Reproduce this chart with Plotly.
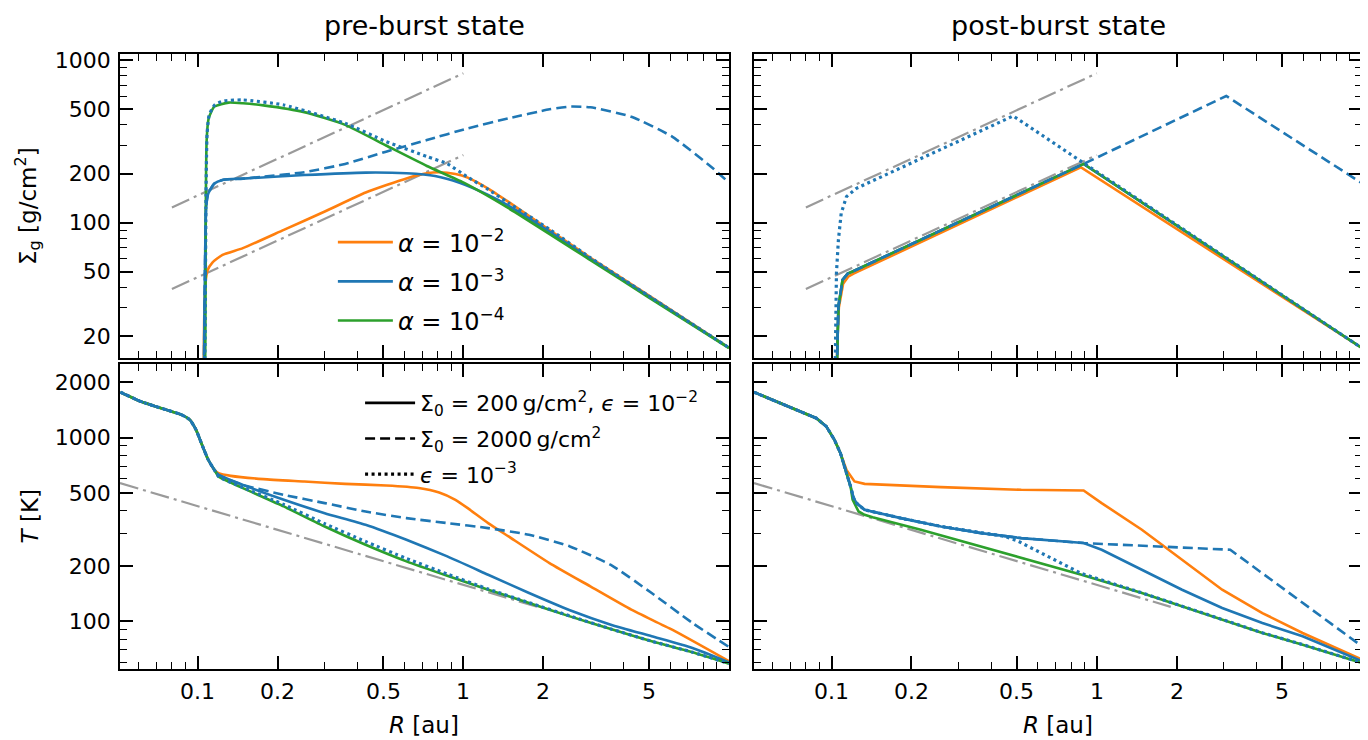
import math
import plotly.graph_objects as go

# ---------------- data ----------------
# gray reference power laws
R_ref_S = [0.08, 1.0]
S_ref_hi = [124, 828]
S_ref_lo = [39, 260]
R_ref_T = [0.051, 1.9]
T_ref = [565, 120]

# ---- pre-burst surface density ----
R_pre_S_o = [0.1052, 0.1058, 0.1066, 0.1076, 0.1090, 0.1136, 0.124, 0.148, 0.211, 0.301, 0.429, 0.611, 0.729, 0.811, 0.934, 1.039, 1.24, 1.48, 2.11, 3.0, 5.0, 10.0]
S_pre_o = [10, 25, 38, 46, 51, 56.8, 63.3, 69.6, 90.2, 116.9, 153, 187, 201, 204, 199, 189, 162, 134, 90, 61, 35.5, 17.0]

R_pre_S_b = [0.1055, 0.1061, 0.1069, 0.1076, 0.1096, 0.1156, 0.124, 0.148, 0.252, 0.429, 0.611, 0.783, 0.968, 1.24, 1.48, 2.11, 3.0, 5.0, 10.0]
S_pre_b = [10, 30.5, 78, 125, 151, 174, 183, 186.5, 196, 203, 201, 193.6, 176, 148, 127, 88, 60, 35.2, 17.0]

R_pre_S_g = [0.1065, 0.1069, 0.1073, 0.1081, 0.110, 0.1156, 0.1308, 0.148, 0.1768, 0.252, 0.359, 0.512, 0.729, 1.003, 1.48, 3.0, 5.0, 10.0]
S_pre_g = [10, 19, 125, 322, 438, 517, 547, 542, 526, 478, 399, 298, 223, 176, 122.6, 59, 34.5, 16.9]

R_pre_S_dash = [0.1055, 0.1061, 0.1069, 0.1076, 0.1096, 0.1156, 0.124, 0.148, 0.1768, 0.252, 0.359, 0.512, 0.729, 1.04, 1.48, 2.11, 2.519, 3.008, 4.29, 6.11, 8.7, 10.0]
S_pre_dash = [10, 30.5, 78, 125, 151, 174, 183, 186.5, 191.8, 204, 229.5, 273, 322, 380, 438, 497.5, 517, 512, 448, 338, 216, 176]

R_pre_S_dot = [0.1062, 0.1068, 0.1075, 0.1085, 0.1105, 0.116, 0.125, 0.148, 0.211, 0.359, 0.512, 0.729, 0.87, 1.04, 1.24, 1.48, 2.11, 3.0, 5.0, 10.0]
S_pre_dot = [10, 30, 150, 350, 460, 530, 560, 568, 529, 408, 315, 255, 230, 190, 160, 132, 91, 61, 35.3, 17.0]

# ---- post-burst surface density ----
R_post_S_o = [0.1045, 0.1053, 0.1065, 0.1105, 0.1155, 0.121, 0.87, 10.0]
S_post_o = [10, 20, 30, 42, 46.5, 48.5, 219, 16.9]

R_post_S_b = [0.1043, 0.1050, 0.1061, 0.110, 0.115, 0.120, 0.892, 10.0]
S_post_b = [10, 20, 30.5, 44.4, 48.5, 50, 229.6, 16.9]

R_post_S_g = [0.1043, 0.1050, 0.1061, 0.110, 0.115, 0.120, 0.892, 10.0]
S_post_g = [10, 20, 30.5, 44.4, 48.5, 50, 229.6, 16.9]

R_post_S_dash = [0.1043, 0.1050, 0.1061, 0.110, 0.115, 0.120, 0.892, 3.076, 10.0]
S_post_dash = [10, 20, 30.5, 44.4, 48.5, 50, 229.6, 600.8, 174.6]

R_post_S_dot = [0.1030, 0.1036, 0.1043, 0.1061, 0.1087, 0.1138, 0.1242, 0.484, 0.876, 10.0]
S_post_dot = [10, 20, 48.8, 78.3, 114, 144.5, 162.6, 452.8, 237, 16.9]

# ---- pre-burst temperature ----
R_pre_T_o = [0.0512, 0.0611, 0.0729, 0.0871, 0.0935, 0.0986, 0.1039, 0.1096, 0.1156, 0.1198, 0.1332, 0.1768, 0.252, 0.359, 0.512, 0.6794, 0.811, 0.934, 1.039, 1.24, 1.48, 2.11, 3.008, 4.29, 6.11, 10.0]
T_pre_o = [1765, 1570, 1444, 1329, 1248, 1101, 912, 757, 667, 640, 619, 594, 577, 560, 549, 532, 502.6, 458.6, 413, 342.5, 289.8, 207.6, 155, 115.8, 90.1, 60.7]

R_pre_T_b = [0.0512, 0.0611, 0.0729, 0.0871, 0.0935, 0.0986, 0.1039, 0.1096, 0.1156, 0.1198, 0.148, 0.211, 0.3008, 0.4286, 0.6107, 0.87, 1.24, 1.768, 2.519, 3.592, 5.117, 7.29, 10.0]
T_pre_b = [1765, 1570, 1444, 1329, 1248, 1101, 912, 757, 667, 627, 553, 458.6, 388, 335.5, 278, 225.7, 179.4, 142.6, 115, 96, 83, 71.7, 59.9]

R_pre_T_g = [0.0512, 0.0611, 0.0729, 0.0871, 0.0935, 0.0986, 0.1039, 0.1096, 0.1156, 0.1198, 0.148, 0.211, 0.3008, 0.4286, 0.6107, 0.87, 1.24, 1.768, 2.519, 3.592, 5.117, 7.29, 10.0]
T_pre_g = [1765, 1570, 1444, 1329, 1248, 1101, 912, 757, 667, 614, 530.7, 422, 328, 261, 212, 177, 148.7, 126, 106.5, 90.9, 77.9, 67.9, 58.9]

R_pre_T_dash = [0.0512, 0.0611, 0.0729, 0.0871, 0.0935, 0.0986, 0.1039, 0.1096, 0.1156, 0.1198, 0.148, 0.211, 0.3008, 0.4286, 0.6107, 0.87, 1.24, 1.768, 2.519, 3.592, 5.117, 7.29, 10.0]
T_pre_dash = [1765, 1570, 1444, 1329, 1248, 1101, 912, 757, 667, 627, 553, 488, 440, 396, 364.6, 342.5, 321.7, 295.9, 255.7, 203, 142.6, 98, 72.6]

R_pre_T_dot = [0.0512, 0.0611, 0.0729, 0.0871, 0.0935, 0.0986, 0.1039, 0.1096, 0.1156, 0.1198, 0.148, 0.211, 0.3008, 0.4286, 0.6107, 0.87, 1.24, 1.768, 2.519, 3.592, 5.117, 7.29, 10.0]
T_pre_dot = [1765, 1570, 1444, 1329, 1248, 1101, 912, 757, 667, 614, 535, 432, 340, 272, 220, 181, 150, 126.5, 107, 91, 78, 68, 59]

# ---- post-burst temperature ----
R_post_T_o = [0.051, 0.064, 0.0876, 0.0956, 0.1025, 0.108, 0.1138, 0.122, 0.1332, 0.2584, 0.519, 0.892, 1.043, 1.479, 2.096, 2.97, 4.21, 5.97, 10.0]
T_post_o = [1765, 1538, 1274, 1148, 972, 822, 667, 577, 560, 537.4, 519.8, 515.4, 440, 315, 216.4, 148.7, 111, 86.5, 61.9]

R_post_T_b = [0.051, 0.064, 0.0876, 0.0956, 0.1025, 0.108, 0.1138, 0.118, 0.121, 0.1242, 0.1332, 0.1823, 0.2584, 0.3663, 0.519, 0.892, 1.043, 1.479, 2.096, 2.97, 4.21, 5.97, 10.0]
T_post_b = [1765, 1538, 1274, 1148, 972, 822, 650, 540, 470, 440, 404.6, 364.6, 328.5, 302, 283.9, 266.7, 245.3, 191, 148.7, 118.2, 98, 83, 60.7]

R_post_T_g = [0.051, 0.064, 0.0876, 0.0956, 0.1025, 0.108, 0.1138, 0.118, 0.12, 0.1264, 0.1332, 0.1428, 0.217, 0.3663, 0.618, 0.876, 1.479, 2.096, 2.97, 4.21, 5.97, 10.0]
T_post_g = [1765, 1538, 1274, 1148, 972, 822, 650, 540, 459, 396, 380, 369, 315, 255.7, 207.6, 179.4, 142.6, 120.7, 102.2, 86.5, 74.7, 59.4]

R_post_T_dash = [0.051, 0.064, 0.0876, 0.0956, 0.1025, 0.108, 0.1138, 0.118, 0.121, 0.1242, 0.1332, 0.1823, 0.2584, 0.3663, 0.519, 0.892, 3.185, 10.0]
T_post_dash = [1765, 1538, 1274, 1148, 972, 822, 650, 540, 470, 440, 404.6, 364.6, 328.5, 302, 283.9, 266.7, 245.3, 73.2]

R_post_T_dot = [0.051, 0.064, 0.0876, 0.0956, 0.1025, 0.108, 0.1138, 0.118, 0.121, 0.1242, 0.1332, 0.1823, 0.2584, 0.3663, 0.45, 0.5, 0.618, 0.876, 1.479, 2.096, 2.97, 4.21, 5.97, 10.0]
T_post_dot = [1765, 1538, 1274, 1148, 972, 822, 650, 540, 470, 440, 404.6, 364.6, 328.5, 302, 290, 275, 235, 182, 143, 121, 102.5, 86.7, 74.8, 59.5]

# tick labels
x_major = [0.1, 0.2, 0.5, 1, 2, 5]
x_major_text = ["0.1", "0.2", "0.5", "1", "2", "5"]
x_minor = [0.06, 0.07, 0.08, 0.09, 0.3, 0.4, 0.6, 0.7, 0.8, 0.9, 3, 4, 6, 7, 8, 9]
S_major = [20, 50, 100, 200, 500, 1000]
S_minor = [30, 40, 60, 70, 80, 90, 300, 400, 600, 700, 800, 900]
T_major = [100, 200, 500, 1000, 2000]
T_minor = [60, 70, 80, 90, 300, 400, 600, 700, 800, 900]

EQ = " = "
alpha_labels = ["<i>α</i>" + EQ + "10<sup>−2</sup>", "<i>α</i>" + EQ + "10<sup>−3</sup>",
                "<i>α</i>" + EQ + "10<sup>−4</sup>"]
style_labels = ["Σ<sub>0</sub>" + EQ + "200\u2009g/cm<sup>2</sup>, <i>ϵ</i>" + EQ + "10<sup>−2</sup>",
                "Σ<sub>0</sub>" + EQ + "2000\u2009g/cm<sup>2</sup>",
                "<i>ϵ</i>" + EQ + "10<sup>−3</sup>"]
titles = ["pre-burst state", "post-burst state"]

# ---------------- styles ----------------
ORANGE = "#ff7f0e"
BLUE = "#1f77b4"
GREEN = "#2ca02c"
GRAY = "#9a9a9a"
FONT = "DejaVu Sans, sans-serif"
LW = 2.6
DASH = "10px,5px"
DOT = "3px,3.5px"
DASHDOT = "19px,5px,3px,5px"

fig = go.Figure()

axes = {(1, 1): ("x", "y"), (1, 2): ("x2", "y2"), (2, 1): ("x3", "y3"), (2, 2): ("x4", "y4")}


def add(panel, R, V, color, dash="solid", width=LW, name=None, legend=None, group=None, shape="linear"):
    xa, ya = axes[panel]
    fig.add_trace(go.Scatter(
        x=R, y=V, xaxis=xa, yaxis=ya, mode="lines",
        line=dict(color=color, dash=dash, width=width, shape=shape, smoothing=0.5),
        name=name or "", showlegend=legend is not None,
        legend=legend or "legend", legendgroup=group, hoverinfo="skip"))


for p in [(1, 1), (1, 2)]:
    add(p, R_ref_S, S_ref_hi, GRAY, DASHDOT, 2.2)
    add(p, R_ref_S, S_ref_lo, GRAY, DASHDOT, 2.2)
for p in [(2, 1), (2, 2)]:
    add(p, R_ref_T, T_ref, GRAY, DASHDOT, 2.2)

SP = "spline"
# pre-burst Sigma
add((1, 1), R_pre_S_o, S_pre_o, ORANGE, name=alpha_labels[0], legend="legend", group="a1", shape=SP)
add((1, 1), R_pre_S_b, S_pre_b, BLUE, name=alpha_labels[1], legend="legend", group="a2", shape=SP)
add((1, 1), R_pre_S_g, S_pre_g, GREEN, name=alpha_labels[2], legend="legend", group="a3", shape=SP)
add((1, 1), R_pre_S_dash, S_pre_dash, BLUE, DASH, shape=SP)
add((1, 1), R_pre_S_dot, S_pre_dot, BLUE, DOT, 3.2, shape=SP)
# post-burst Sigma
add((1, 2), R_post_S_o, S_post_o, ORANGE)
add((1, 2), R_post_S_b, S_post_b, BLUE)
add((1, 2), R_post_S_g, S_post_g, GREEN)
add((1, 2), R_post_S_dash, S_post_dash, BLUE, DASH)
add((1, 2), R_post_S_dot, S_post_dot, BLUE, DOT, 3.2)
# pre-burst T
add((2, 1), R_pre_T_o, T_pre_o, ORANGE, shape=SP)
add((2, 1), R_pre_T_b, T_pre_b, BLUE, shape=SP)
add((2, 1), R_pre_T_g, T_pre_g, GREEN, shape=SP)
add((2, 1), R_pre_T_dash, T_pre_dash, BLUE, DASH, shape=SP)
add((2, 1), R_pre_T_dot, T_pre_dot, BLUE, DOT, 3.2, shape=SP)
# post-burst T
add((2, 2), R_post_T_o, T_post_o, ORANGE)
add((2, 2), R_post_T_b, T_post_b, BLUE)
add((2, 2), R_post_T_g, T_post_g, GREEN)
add((2, 2), R_post_T_dash, T_post_dash, BLUE, DASH)
add((2, 2), R_post_T_dot, T_post_dot, BLUE, DOT, 3.2)

# legend entries for the line styles (no data drawn)
add((2, 1), [None], [None], "black", "solid", LW, style_labels[0], "legend2", "s1")
add((2, 1), [None], [None], "black", DASH, LW, style_labels[1], "legend2", "s2")
add((2, 1), [None], [None], "black", DOT, 3.2, style_labels[2], "legend2", "s3")

XRANGE = [-1.2924, 1.0]
SRANGE = [1.167, 3.037]
TRANGE = [1.741, 3.40]


def axis_common(**kw):
    d = dict(type="log", showgrid=False, zeroline=False, showline=True, linecolor="black",
             linewidth=1.8, mirror="ticks", ticks="inside", ticklen=13, tickwidth=1.5,
             tickcolor="black", automargin=False,
             tickfont=dict(size=22, color="black", family=FONT),
             minor=dict(ticks="inside", ticklen=7, tickwidth=1.3, tickcolor="black",
                        showgrid=False, tickmode="array"))
    d.update(kw)
    return d


xd_left = [0.0, 0.4903]
xd_right = [0.5105, 1.0]
yd_top = [0.5057, 1.0]
yd_bot = [0.0, 0.4959]


def xaxis(domain, anchor):
    # tick labels of the bottom row are drawn as annotations (see below)
    a = axis_common(domain=domain, anchor=anchor, showticklabels=False,
                    tickmode="array", tickvals=x_major, range=XRANGE)
    a["minor"]["tickvals"] = x_minor
    return a


def yaxis(domain, anchor, labels, major, minor, rng):
    a = axis_common(domain=domain, anchor=anchor, showticklabels=labels, range=rng,
                    tickmode="array", tickvals=major, ticktext=[str(v) for v in major],
                    ticklabelstandoff=3)
    a["minor"]["tickvals"] = minor
    return a


TF = dict(size=23, color="black", family=FONT)
ann = [
    dict(text=titles[0], x=sum(xd_left) / 2, y=1.0, xref="paper", yref="paper",
         xanchor="center", yanchor="bottom", yshift=11, showarrow=False,
         font=dict(size=27, color="black", family=FONT)),
    dict(text=titles[1], x=sum(xd_right) / 2, y=1.0, xref="paper", yref="paper",
         xanchor="center", yanchor="bottom", yshift=11, showarrow=False,
         font=dict(size=27, color="black", family=FONT)),
    dict(text="Σ<sub>g</sub> [g/cm<sup>2</sup>]", x=-0.0741, y=sum(yd_top) / 2, xref="paper", yref="paper",
         xanchor="center", yanchor="middle", textangle=-90, showarrow=False, font=TF),
    dict(text="<i>T</i> [K]", x=-0.0725, y=sum(yd_bot) / 2, xref="paper", yref="paper",
         xanchor="center", yanchor="middle", textangle=-90, showarrow=False, font=TF),
    dict(text="<i>R</i> [au]", x=sum(xd_left) / 2, y=-0.091, xref="paper", yref="paper",
         xanchor="center", yanchor="middle", showarrow=False, font=TF),
    dict(text="<i>R</i> [au]", x=sum(xd_right) / 2, y=-0.091, xref="paper", yref="paper",
         xanchor="center", yanchor="middle", showarrow=False, font=TF),
]
for xa in ["x3", "x4"]:
    for v, t in zip(x_major, x_major_text):
        ann.append(dict(text=t, x=math.log10(v), xref=xa, y=-0.0365, yref="paper",
                        xanchor="center", yanchor="middle", showarrow=False,
                        font=dict(size=22, color="black", family=FONT)))

# the page body has an 8 px margin, so the figure is made 8 px smaller each way
fig.update_layout(
    width=1360, height=732,
    margin=dict(l=112, r=6, t=46, b=71),
    paper_bgcolor="white", plot_bgcolor="white",
    font=dict(family=FONT, color="black", size=22),
    xaxis=xaxis(xd_left, "y"),
    yaxis=yaxis(yd_top, "x", True, S_major, S_minor, SRANGE),
    xaxis2=xaxis(xd_right, "y2"),
    yaxis2=yaxis(yd_top, "x2", False, S_major, S_minor, SRANGE),
    xaxis3=xaxis(xd_left, "y3"),
    yaxis3=yaxis(yd_bot, "x3", True, T_major, T_minor, TRANGE),
    xaxis4=xaxis(xd_right, "y4"),
    yaxis4=yaxis(yd_bot, "x4", False, T_major, T_minor, TRANGE),
    legend=dict(x=0.1714, y=0.730, xanchor="left", yanchor="top", bgcolor="rgba(0,0,0,0)",
                font=dict(size=24, color="black", family=FONT), itemwidth=55,
                tracegroupgap=5, traceorder="grouped"),
    legend2=dict(x=0.1933, y=0.4666, xanchor="left", yanchor="top", bgcolor="rgba(0,0,0,0)",
                 font=dict(size=22, color="black", family=FONT), itemwidth=50,
                 tracegroupgap=4, traceorder="grouped"),
    annotations=ann,
)

fig.write_html("out.html")
